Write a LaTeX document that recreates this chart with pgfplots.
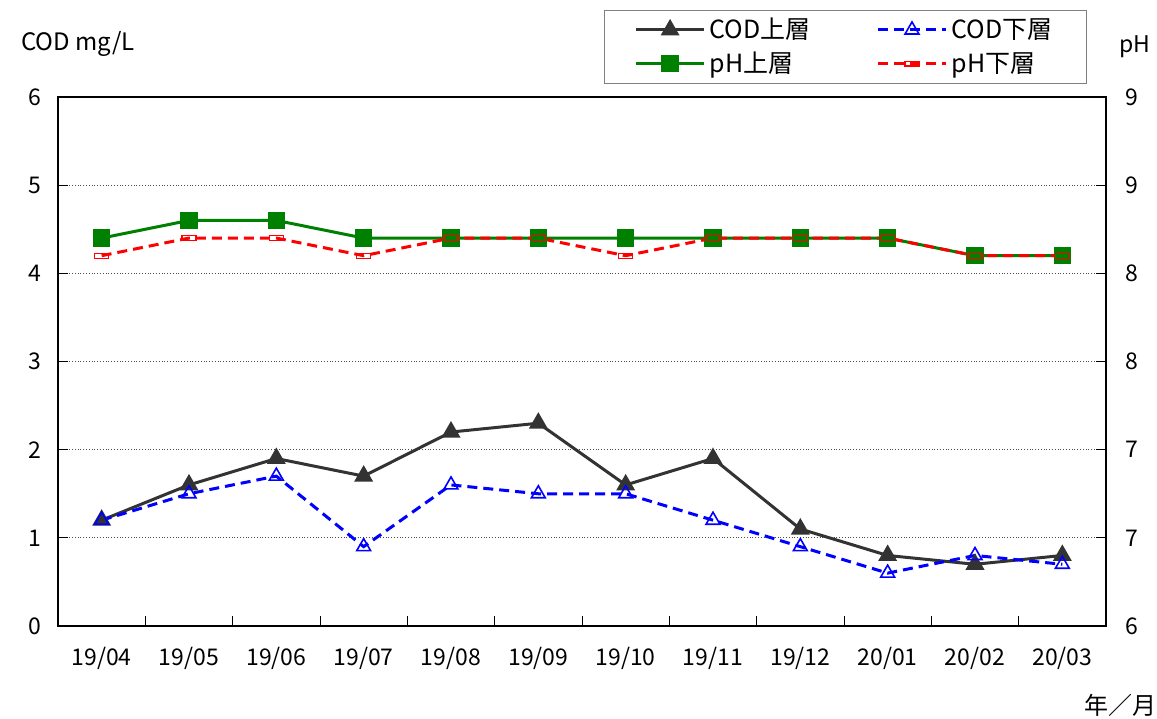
\documentclass[border=0pt]{standalone}
\usepackage{pgfplots}
\pgfplotsset{compat=1.18}
\usepackage{fontspec}
\setmainfont{Noto Sans CJK JP}
\definecolor{codup}{HTML}{333333}
\definecolor{phgreen}{HTML}{008000}
\begin{document}
\begin{tikzpicture}
\path[use as bounding box] (-29pt,-46pt) rectangle (549.5pt,313pt);
\begin{axis}[
  at={(0,0)}, anchor=south west, scale only axis,
  width=524pt, height=264.5pt,
  xmin=-0.5, xmax=11.5, ymin=0, ymax=6,
  xtick={0.5,1.5,...,10.5}, xticklabels={},
  extra x ticks={0,1,2,3,4,5,6,7,8,9,10,11},
  extra x tick labels={19/04,19/05,19/06,19/07,19/08,19/09,19/10,19/11,19/12,20/01,20/02,20/03},
  extra x tick style={major tick length=0pt, tick label style={font=\fontsize{11.5}{12}\selectfont, yshift=-7pt}},
  ytick={0,1,2,3,4,5,6}, ytick pos=left, xtick pos=bottom, tick align=inside,
  major tick length=5pt,
  tick style={black, line width=0.5pt},
  ymajorgrids, major grid style={densely dotted, line width=0.5pt, black!70},
  axis line style={line width=1.2pt},
  yticklabel style={font=\fontsize{11.5}{12}\selectfont, xshift=-5pt},
  /pgf/number format/assume math mode=true,
  clip=false,
]
\addplot[codup, line width=1.5pt, mark=triangle*, mark size=4pt, mark options={solid, fill=codup}] coordinates {
(0,1.2)(1,1.6)(2,1.9)(3,1.7)(4,2.2)(5,2.3)(6,1.6)(7,1.9)(8,1.1)(9,0.8)(10,0.7)(11,0.8)};
\addplot[blue, line width=1.5pt, dash pattern=on 5pt off 3pt, mark=triangle, mark size=4pt, mark options={solid, fill=white, line width=0.8pt}] coordinates {
(0,1.2)(1,1.5)(2,1.7)(3,0.9)(4,1.6)(5,1.5)(6,1.5)(7,1.2)(8,0.9)(9,0.6)(10,0.8)(11,0.7)};
\end{axis}
\begin{axis}[
  at={(0,0)}, anchor=south west, scale only axis,
  width=524pt, height=264.5pt,
  xmin=-0.5, xmax=11.5, ymin=6, ymax=9,
  axis x line=none, axis y line*=right,
  axis line style={line width=1.2pt},
  ytick={6,6.5,7,7.5,8,8.5,9}, yticklabels={6,7,7,8,8,9,9},
  tick align=inside, major tick length=5pt,
  tick style={black, line width=0.5pt},
  yticklabel style={font=\fontsize{11.5}{12}\selectfont, xshift=6pt},
  /pgf/number format/assume math mode=true,
  clip=false,
  legend columns=2,
  legend cell align=left,
  legend style={at={(1,1)}, anchor=south east, xshift=-9.5pt, yshift=6.5pt,
    draw=gray, line width=0.6pt, font=\fontsize{12.5}{13}\selectfont,
    inner xsep=15pt, inner ysep=2pt,
    /tikz/every even column/.append style={column sep=31pt},
    row sep=1pt},
  legend image code/.code={\draw[mark repeat=2, mark phase=2] plot coordinates {(0pt,0pt)(17pt,0pt)(34pt,0pt)};},
]
\addlegendimage{codup, line width=1.5pt, mark=triangle*, mark size=4pt, mark options={solid, fill=codup}}
\addlegendentry{COD上層}
\addlegendimage{blue, line width=1.5pt, dash pattern=on 5pt off 3pt, mark=triangle, mark size=4pt, mark options={solid, fill=white, line width=0.8pt}}
\addlegendentry{COD下層}
\addplot[phgreen, line width=1.5pt, mark=square*, mark size=3.6pt, mark options={solid, fill=phgreen}] coordinates {
(0,8.2)(1,8.3)(2,8.3)(3,8.2)(4,8.2)(5,8.2)(6,8.2)(7,8.2)(8,8.2)(9,8.2)(10,8.1)(11,8.1)};
\addlegendentry{pH上層}
\addplot[red, line width=1.5pt, dash pattern=on 5pt off 3pt, mark=square, mark size=3.5pt, mark options={solid, fill=white, line width=0.6pt, yscale=0.35}] coordinates {
(0,8.1)(1,8.2)(2,8.2)(3,8.1)(4,8.2)(5,8.2)(6,8.1)(7,8.2)(8,8.2)(9,8.2)(10,8.1)(11,8.1)};
\addlegendentry{pH下層}
\end{axis}
\node[font=\fontsize{12}{13}\selectfont] at (10pt,291pt) {COD mg/L};
\node[font=\fontsize{11.5}{12}\selectfont] at (538.5pt,289.5pt) {pH};
\node[font=\fontsize{12}{13}\selectfont] at (531pt,-39.5pt) {年／月};
\end{tikzpicture}
\end{document}
